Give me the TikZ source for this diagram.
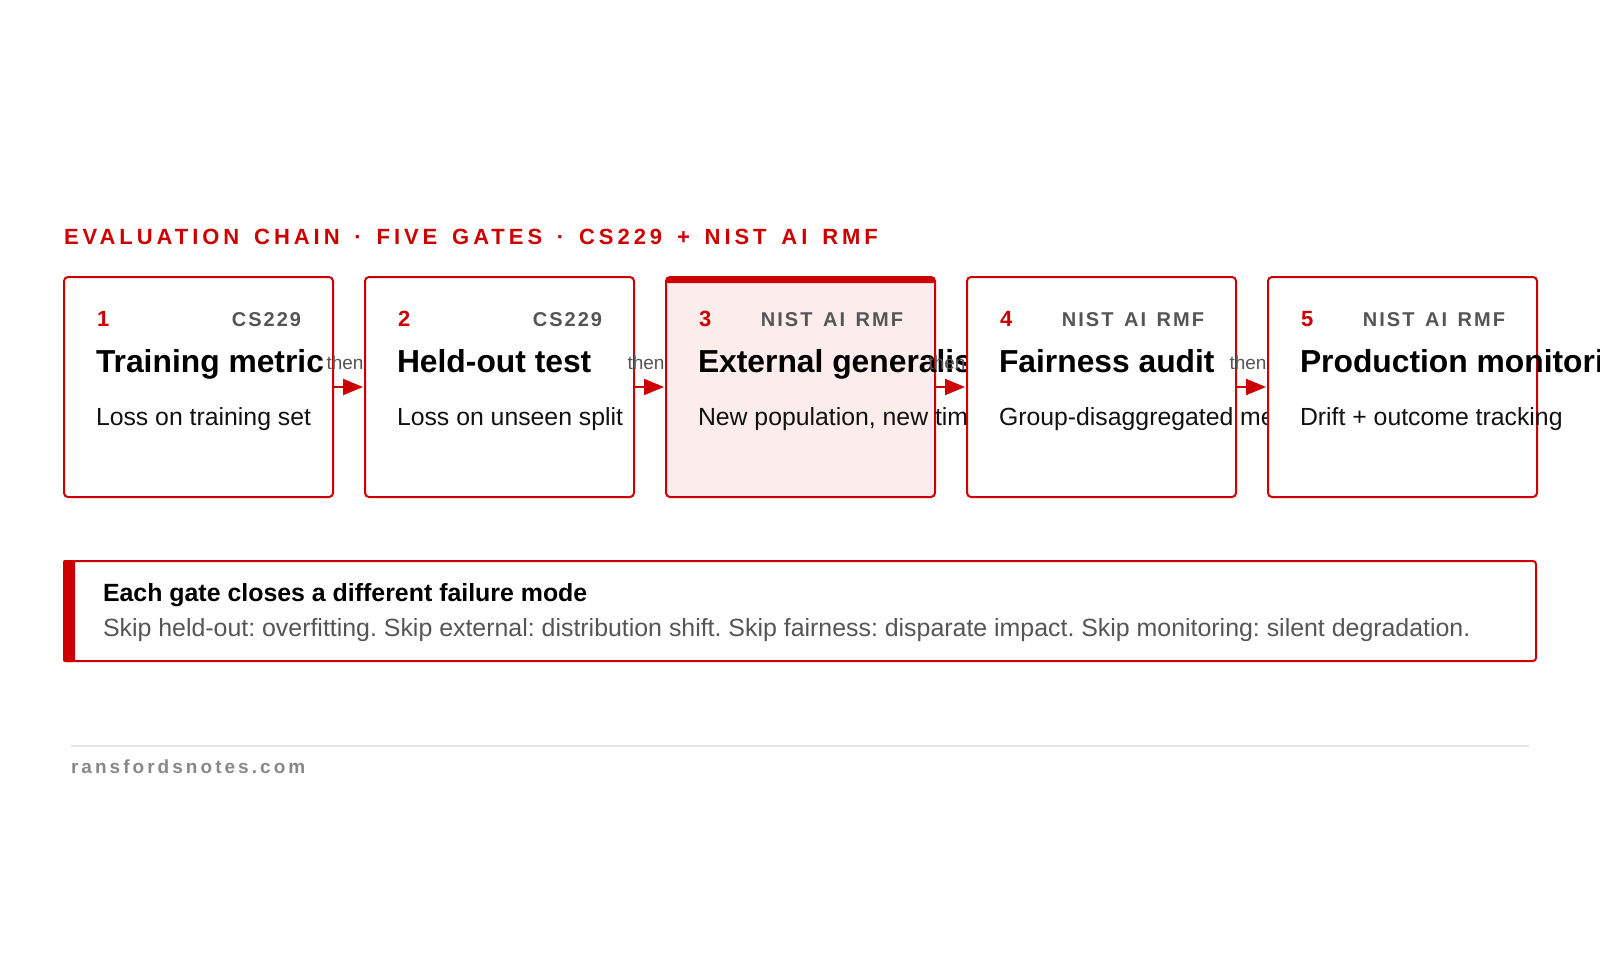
\documentclass[tikz,border=0pt]{standalone}
\usepackage{fontspec}
\usepackage{tikz}
\usetikzlibrary{arrows.meta}
\setmainfont{Liberation Sans}
\newfontfamily\headfont[LetterSpace=18, WordSpace=1.47]{Liberation Sans}
\newfontfamily\tagfont[LetterSpace=10, WordSpace=1.4]{Liberation Sans}
\newfontfamily\sitefont[LetterSpace=16]{Liberation Sans}
\newcommand{\fsz}[1]{\fontsize{#1}{#1}\selectfont}
\definecolor{evred}{HTML}{CC0000}
\definecolor{tagGray}{HTML}{555555}
\definecolor{pinkfill}{HTML}{FDECEC}
\definecolor{siteGray}{HTML}{888888}
\definecolor{ruleGray}{HTML}{E6E6E6}
\definecolor{inkBlack}{HTML}{111111}
\frenchspacing

\begin{document}
\begin{tikzpicture}[x=1pt, y=-1pt]
	\tikzstyle{every node} =[inner sep=0pt, outer sep=0pt];
	\tikzstyle{gate} =[draw=evred, fill=white, line width=2pt, rounded corners=4pt, minimum width=269pt, minimum height=220pt, anchor=north west];
	\tikzstyle{num} =[anchor=base west, text=evred, font=\fsz{22}\bfseries];
	\tikzstyle{src} =[anchor=base east, text=tagGray, font=\tagfont\fsz{20}\bfseries];
	\tikzstyle{ttl} =[anchor=base west, text=black, font=\fsz{31.8}\bfseries];
	\tikzstyle{dsc} =[anchor=base west, text=inkBlack, font=\fsz{24.8}];
	\tikzstyle{thenlbl} =[anchor=base, text=tagGray, font=\fsz{19}];
	\tikzstyle{flow} =[draw=evred, line width=2pt, shorten >=2pt, -{Triangle[length=20pt, width=16pt]}];
	\useasboundingbox [fill=white] (0,0) rectangle (1600,960);

	\node [anchor=base west, text=evred, font=\headfont\fsz{22}\bfseries] (head) at (64, 244) {EVALUATION CHAIN · FIVE GATES · CS229 + NIST AI RMF};

	% gate 1
	\node [gate] (g1) at (64, 277) {};
	\node [num] (n1) at (97, 326) {1};
	\node [src] (s1) at (301, 326) {CS229};
	\node [ttl] (t1) at (96, 372) {Training metric};
	\node [dsc] (d1) at (96, 425) {Loss on training set};

	% gate 2
	\node [gate] (g2) at (365, 277) {};
	\node [num] (n2) at (398, 326) {2};
	\node [src] (s2) at (602, 326) {CS229};
	\node [ttl] (t2) at (397, 372) {Held-out test};
	\node [dsc] (d2) at (397, 425) {Loss on unseen split};

	% gate 3 (highlighted)
	\node [gate, fill=pinkfill] (g3) at (666, 277) {};
	\fill [evred, rounded corners=2pt] (666, 277) rectangle (935, 283);
	\node [num] (n3) at (699, 326) {3};
	\node [src] (s3) at (903, 326) {NIST AI RMF};
	\node [ttl] (t3) at (698, 372) {External generalisation};
	\node [dsc] (d3) at (698, 425) {New population, new time window};

	% gate 4
	\node [gate] (g4) at (967, 277) {};
	\node [num] (n4) at (1000, 326) {4};
	\node [src] (s4) at (1204, 326) {NIST AI RMF};
	\node [ttl] (t4) at (999, 372) {Fairness audit};
	\node [dsc] (d4) at (999, 425) {Group-disaggregated metrics};

	% gate 5
	\node [gate] (g5) at (1268, 277) {};
	\node [num] (n5) at (1301, 326) {5};
	\node [src] (s5) at (1505, 326) {NIST AI RMF};
	\node [ttl] (t5) at (1300, 372) {Production monitoring};
	\node [dsc] (d5) at (1300, 425) {Drift + outcome tracking};

	% connectors
	\draw [flow] (g1) -- (g2);
	\draw [flow] (g2) -- (g3);
	\draw [flow] (g3) -- (g4);
	\draw [flow] (g4) -- (g5);
	\node [thenlbl] (then1) at (345, 369) {then};
	\node [thenlbl] (then2) at (646, 369) {then};
	\node [thenlbl] (then3) at (947, 369) {then};
	\node [thenlbl] (then4) at (1248, 369) {then};

	% callout
	\node [draw=evred, line width=2pt, rounded corners=3pt, minimum width=1472pt, minimum height=100pt, anchor=north west] (note) at (64, 561) {};
	\fill [evred, rounded corners=2pt] (63, 560) rectangle (75, 662);
	\node [anchor=base west, text=black, font=\fsz{24.9}\bfseries] (notehead) at (103, 601) {Each gate closes a different failure mode};
	\node [anchor=base west, text=tagGray, font=\fsz{24.9}] (notebody) at (103, 636) {Skip held-out: overfitting. Skip external: distribution shift. Skip fairness: disparate impact. Skip monitoring: silent degradation.};

	% footer
	\draw [ruleGray, line width=1.5pt] (71, 746) -- (1529, 746);
	\node [anchor=base west, text=siteGray, font=\sitefont\fsz{19}\bfseries] (site) at (71, 773) {ransfordsnotes.com};
\end{tikzpicture}
\end{document}
